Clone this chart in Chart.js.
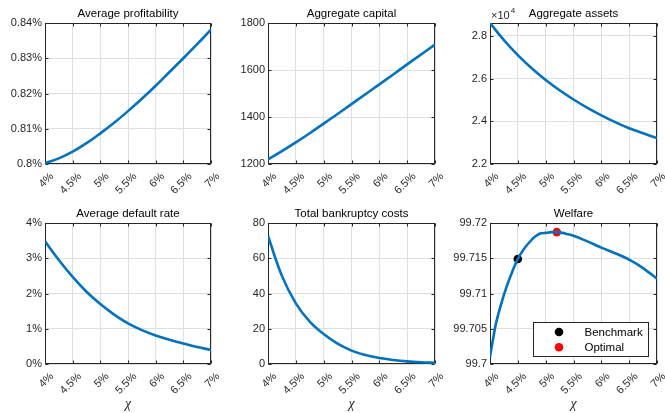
<!DOCTYPE html>
<html>
<head>
<meta charset="utf-8">
<script src="https://cdn.jsdelivr.net/npm/chart.js@4.4.0/dist/chart.umd.min.js"></script>
<style>
  body { margin: 0; background: #fff; }
  #wrap { position: relative; width: 665px; height: 413px; }
  #wrap canvas { position: absolute; }
</style>
</head>
<body>
<div id="wrap">
  <canvas id="c1" width="222" height="200" style="left:0;top:0"></canvas>
  <canvas id="c2" width="222" height="200" style="left:222px;top:0"></canvas>
  <canvas id="c3" width="221" height="200" style="left:444px;top:0"></canvas>
  <canvas id="c4" width="222" height="213" style="left:0;top:200px"></canvas>
  <canvas id="c5" width="222" height="213" style="left:222px;top:200px"></canvas>
  <canvas id="c6" width="221" height="213" style="left:444px;top:200px"></canvas>
</div>
<script>
// chi grid (%)
var chi = [4, 4.25, 4.5, 4.75, 5, 5.25, 5.5, 5.75, 6, 6.25, 6.5, 6.75, 7];
var chiTicks = [4, 4.5, 5, 5.5, 6, 6.5, 7];

var profitability = [0.8002, 0.8016, 0.8035, 0.8059, 0.8087, 0.8117, 0.8150, 0.8185, 0.8222, 0.8261, 0.8300, 0.8340, 0.8381]; // %
var capital = [1220, 1255, 1292, 1331, 1372, 1413, 1455, 1497, 1539, 1581, 1624, 1666, 1708];
var assets = [28600, 27800, 27100, 26480, 25930, 25450, 25020, 24630, 24280, 23960, 23670, 23440, 23215];
var defaultRate = [3.48, 2.95, 2.47, 2.05, 1.70, 1.40, 1.15, 0.96, 0.81, 0.69, 0.58, 0.48, 0.40]; // %
var bankruptcy = [72.6, 50, 34.4, 24, 17, 11.5, 7.6, 5.1, 3.4, 2.3, 1.5, 1.0, 0.7];

var welfareChi = [4, 4.1, 4.2, 4.3, 4.4, 4.5, 4.6, 4.7, 4.8, 4.9, 5, 5.1, 5.2, 5.3, 5.4, 5.5, 5.75, 6, 6.25, 6.5, 6.75, 7];
var welfare = [99.7010, 99.7055, 99.7085, 99.7110, 99.7131, 99.7149, 99.7162, 99.7172, 99.7180, 99.7185, 99.7186, 99.7187, 99.7187,
               99.7186, 99.7184, 99.7182, 99.7174, 99.7165, 99.7157, 99.7148, 99.7136, 99.7121];
var benchmark = [4.5, 99.7149];
var optimal = [5.2, 99.7187];

var profitTicks = [0.80, 0.81, 0.82, 0.83, 0.84];
var capitalTicks = [1200, 1400, 1600, 1800];
var assetsTicks = [22000, 24000, 26000, 28000];
var defaultTicks = [0, 1, 2, 3, 4];
var bankruptcyTicks = [0, 20, 40, 60, 80];
var welfareTicks = [99.7, 99.705, 99.71, 99.715, 99.72];

Chart.defaults.font.family = '"Liberation Sans", Arial, Helvetica, sans-serif';
Chart.defaults.color = '#262626';

var BLUE = '#0072BD';
var AXIS = '#262626';
var FONT = '"Liberation Sans", Arial, sans-serif';

function pts(xs, ys) {
  return xs.map(function (x, i) { return { x: x, y: ys[i] }; });
}

// box round the axes with inward tick marks
var framePlugin = {
  id: 'frame',
  beforeDatasetsDraw: function (chart) {
    var a = chart.chartArea, ctx = chart.ctx;
    var l = Math.round(a.left) + 0.5, r = Math.round(a.right) - 0.5;
    var t = Math.round(a.top) + 0.5, b = Math.round(a.bottom) - 0.5;
    ctx.save();
    ctx.strokeStyle = AXIS;
    ctx.lineWidth = 1;
    ctx.strokeRect(l, t, r - l, b - t);
    ctx.beginPath();
    chart.scales.x.ticks.forEach(function (tk) {
      var px = Math.round(chart.scales.x.getPixelForValue(tk.value)) + 0.5;
      ctx.moveTo(px, b); ctx.lineTo(px, b - 3);
      ctx.moveTo(px, t); ctx.lineTo(px, t + 3);
    });
    chart.scales.y.ticks.forEach(function (tk) {
      var py = Math.round(chart.scales.y.getPixelForValue(tk.value)) + 0.5;
      ctx.moveTo(l, py); ctx.lineTo(l + 3, py);
      ctx.moveTo(r, py); ctx.lineTo(r - 3, py);
    });
    ctx.stroke();
    ctx.restore();
  }
};

// title centred over the plot box
var panelTitlePlugin = {
  id: 'panelTitle',
  afterDraw: function (chart, args, opts) {
    var a = chart.chartArea, ctx = chart.ctx;
    ctx.save();
    ctx.fillStyle = '#000';
    ctx.font = '11.5px ' + FONT;
    ctx.textAlign = 'center';
    ctx.textBaseline = 'alphabetic';
    ctx.fillText(opts.text, (a.left + a.right) / 2, a.top - 6);
    ctx.restore();
  }
};

var exponentPlugin = {
  id: 'exponent',
  afterDraw: function (chart) {
    var a = chart.chartArea, ctx = chart.ctx;
    ctx.save();
    ctx.fillStyle = AXIS;
    ctx.textBaseline = 'alphabetic';
    ctx.font = '11px ' + FONT;
    ctx.fillText('\u00d710', a.left + 1, a.top - 4);
    var w = ctx.measureText('\u00d710').width;
    ctx.font = '8px ' + FONT;
    ctx.fillText('4', a.left + w + 2, a.top - 10);
    ctx.restore();
  }
};

var legendBoxPlugin = {
  id: 'legendBox',
  afterDatasetsDraw: function (chart) {
    var a = chart.chartArea, ctx = chart.ctx;
    var items = chart.data.datasets.filter(function (d) { return d.label; });
    var w = 115, h = 34;
    var x0 = Math.round(a.right - 9 - w) + 0.5, y0 = Math.round(a.bottom - 8 - h) + 0.5;
    ctx.save();
    ctx.fillStyle = '#fff';
    ctx.fillRect(x0, y0, w, h);
    ctx.strokeStyle = AXIS;
    ctx.lineWidth = 1;
    ctx.strokeRect(x0, y0, w, h);
    ctx.font = '11.5px ' + FONT;
    ctx.textBaseline = 'middle';
    items.forEach(function (d, i) {
      var cy = y0 + 9.5 + i * 15.3;
      ctx.beginPath();
      ctx.arc(x0 + 25.5, cy, 4.3, 0, Math.PI * 2);
      ctx.fillStyle = d.backgroundColor;
      ctx.fill();
      ctx.fillStyle = '#000';
      ctx.fillText(d.label, x0 + 51, cy + 0.5);
    });
    ctx.restore();
  }
};

function makePanel(id, o) {
  var ctx = document.getElementById(id).getContext('2d');
  var yTicks = o.yTicks;
  var plugins = [framePlugin, panelTitlePlugin].concat(o.extra || []);
  new Chart(ctx, {
    type: 'line',
    data: { datasets: o.datasets },
    plugins: plugins,
    options: {
      responsive: false,
      animation: false,
      layout: { padding: { left: 0, right: o.padRight, top: 23, bottom: 0 } },
      plugins: {
        legend: { display: false },
        tooltip: { enabled: false },
        title: { display: false },
        panelTitle: { text: o.title }
      },
      scales: {
        x: {
          type: 'linear',
          min: 4,
          max: 7,
          afterBuildTicks: function (s) { s.ticks = chiTicks.map(function (v) { return { value: v }; }); },
          afterFit: function (s) {
            s.height = o.xHeight;
            s.paddingLeft = 0;
            s.paddingRight = 0;
          },
          grid: { color: '#dfdfdf', drawTicks: false },
          border: { display: false },
          ticks: {
            autoSkip: false,
            minRotation: 45,
            maxRotation: 45,
            padding: 6,
            labelOffset: 7,
            font: { size: 11 },
            color: AXIS,
            callback: function (v) { return v + '%'; }
          },
          title: o.xTitle ? {
            display: true,
            text: '\u03c7',
            color: AXIS,
            font: { family: '"Liberation Serif", "DejaVu Serif", serif', style: 'italic', size: 14 },
            padding: { top: 0, bottom: 0 }
          } : { display: false }
        },
        y: {
          type: 'linear',
          min: yTicks[0],
          max: o.yMax !== undefined ? o.yMax : yTicks[yTicks.length - 1],
          afterBuildTicks: function (s) { s.ticks = yTicks.map(function (v) { return { value: v }; }); },
          afterFit: function (s) {
            s.width = o.yWidth;
            s.paddingTop = 0;
            s.paddingBottom = 0;
          },
          grid: { color: '#dfdfdf', drawTicks: false },
          border: { display: false },
          ticks: {
            padding: 3,
            font: { size: 11 },
            color: AXIS,
            callback: o.yFormat
          }
        }
      }
    }
  });
}

function curve(xs, ys) {
  return {
    data: pts(xs, ys),
    borderColor: BLUE,
    borderWidth: 2.6,
    pointRadius: 0,
    fill: false,
    tension: 0.4
  };
}

// top row
makePanel('c1', {
  title: 'Average profitability', datasets: [curve(chi, profitability)],
  yTicks: profitTicks, yWidth: 45, padRight: 11, xHeight: 36,
  yFormat: function (v) { return Number(v.toFixed(2)) + '%'; }
});
makePanel('c2', {
  title: 'Aggregate capital', datasets: [curve(chi, capital)],
  yTicks: capitalTicks, yWidth: 46, padRight: 9, xHeight: 36,
  yFormat: function (v) { return v; }
});
makePanel('c3', {
  title: 'Aggregate assets', datasets: [curve(chi, assets)],
  yTicks: assetsTicks, yMax: 28600, yWidth: 46, padRight: 8, xHeight: 36,
  yFormat: function (v) { return (v / 1e4).toFixed(1); },
  extra: [exponentPlugin]
});

// bottom row
makePanel('c4', {
  title: 'Average default rate', datasets: [curve(chi, defaultRate)],
  yTicks: defaultTicks, yWidth: 45, padRight: 11, xHeight: 49, xTitle: true,
  yFormat: function (v) { return v + '%'; }
});
makePanel('c5', {
  title: 'Total bankruptcy costs', datasets: [curve(chi, bankruptcy)],
  yTicks: bankruptcyTicks, yWidth: 46, padRight: 9, xHeight: 49, xTitle: true,
  yFormat: function (v) { return v; }
});

var welfareLine = curve(welfareChi, welfare);
welfareLine.tension = 0.2;
makePanel('c6', {
  title: 'Welfare',
  datasets: [
    welfareLine,
    { label: 'Benchmark', data: [{ x: benchmark[0], y: benchmark[1] }], showLine: false,
      pointRadius: 4.3, backgroundColor: '#000', borderColor: '#000', borderWidth: 0 },
    { label: 'Optimal', data: [{ x: optimal[0], y: optimal[1] }], showLine: false,
      pointRadius: 4.3, backgroundColor: '#ff0000', borderColor: '#ff0000', borderWidth: 0 }
  ],
  yTicks: welfareTicks, yWidth: 46, padRight: 8, xHeight: 49, xTitle: true,
  yFormat: function (v) { return String(Number(v.toFixed(3))); },
  extra: [legendBoxPlugin]
});
</script>
</body>
</html>
